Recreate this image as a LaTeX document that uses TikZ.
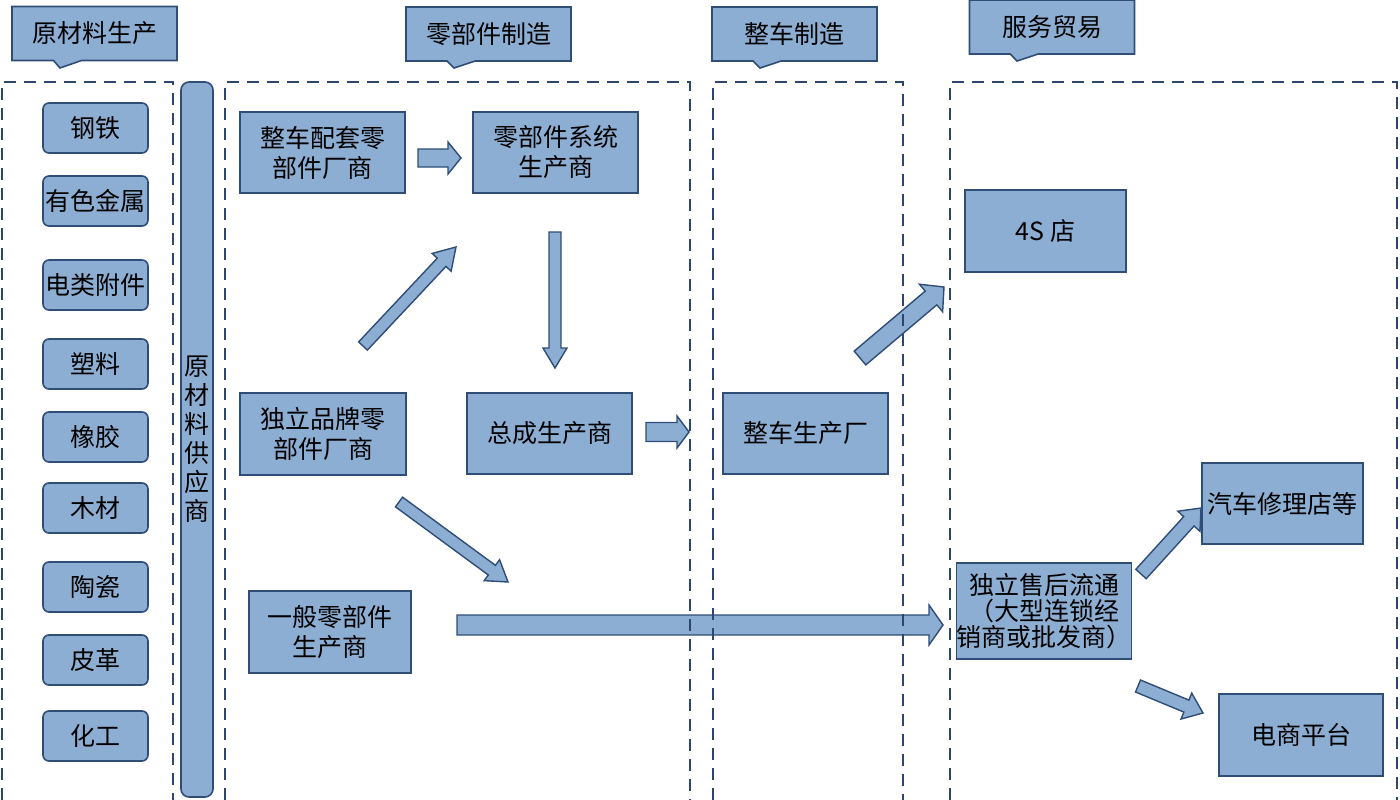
\documentclass[tikz,border=0pt]{standalone}
\usepackage{fontspec}
\newfontfamily\cjk{Noto Sans CJK SC}
\usetikzlibrary{calc,shapes.callouts}
\definecolor{bfill}{RGB}{141,174,211}
\definecolor{bedge}{RGB}{47,77,118}
\definecolor{dashc}{RGB}{45,70,110}
\tikzset{
  every node/.style={font=\cjk\fontsize{25}{30}\selectfont, text=black},
  base/.style={draw=bedge, fill=bfill, line width=1.6pt, inner sep=0pt, align=center},
  sqbox/.style={base, rectangle},
  rbox/.style={base, rectangle, rounded corners=6pt, minimum width=105pt, minimum height=50pt},
  hdr/.style={base, rectangle callout, callout pointer width=28pt, minimum width=165pt, minimum height=54pt},
  cont/.style={draw=dashc, line width=1.8pt, dash pattern=on 12pt off 8pt},
  barrow/.style={draw=bedge, fill=bfill, line width=1.4pt, line join=miter},
}
\newcommand{\blockarrow}[5]{%
  \coordinate (ba-h) at ($(#2)!#5!(#1)$);
  \draw[barrow] ($(#1)!#3!90:(#2)$) -- ($(ba-h)!#3!90:(#2)$) -- ($(ba-h)!#4!90:(#2)$) -- (#2)
     -- ($(ba-h)!#4!-90:(#2)$) -- ($(ba-h)!#3!-90:(#2)$) -- ($(#1)!#3!-90:(#2)$) -- cycle;}
\begin{document}
\begin{tikzpicture}[x=1pt,y=-1pt]
\useasboundingbox (0,0) rectangle (1400,800);

% arrow end points
\coordinate (a1t) at (418,158);  \coordinate (a1h) at (461,158);
\coordinate (a2t) at (363,346);  \coordinate (a2h) at (456,247);
\coordinate (a3t) at (555,232);  \coordinate (a3h) at (555,368);
\coordinate (a4t) at (646,432);  \coordinate (a4h) at (689,432);
\coordinate (a5t) at (860,358);  \coordinate (a5h) at (944,287);
\coordinate (a6t) at (399,502);  \coordinate (a6h) at (508,582);
\coordinate (a7t) at (457,625);  \coordinate (a7h) at (943,625);
\coordinate (a8t) at (1141,574); \coordinate (a8h) at (1201,508);
\coordinate (a9t) at (1138,686); \coordinate (a9h) at (1203,713);

\blockarrow{a1t}{a1h}{9pt}{16pt}{13pt}
\blockarrow{a2t}{a2h}{6pt}{13pt}{21pt}
\blockarrow{a3t}{a3h}{6pt}{12pt}{20pt}
\blockarrow{a4t}{a4h}{9.5pt}{16pt}{12pt}
\blockarrow{a5t}{a5h}{9pt}{18pt}{17pt}
\blockarrow{a6t}{a6h}{6pt}{13pt}{20pt}
\blockarrow{a7t}{a7h}{10pt}{20pt}{14pt}
\blockarrow{a8t}{a8h}{7pt}{15pt}{18pt}
\blockarrow{a9t}{a9h}{6.5pt}{14pt}{18pt}

% dashed containers
\draw[cont] (2,800) -- (2,82) -- (173,82) -- (173,800);
\draw[cont] (225,800) -- (225,82) -- (690,82) -- (690,800);
\draw[cont] (713,800) -- (713,82) -- (903,82) -- (903,800);
\draw[cont] (950,800) -- (950,82) -- (1397,82) -- (1397,800);

% headers
\node[hdr, callout absolute pointer={(60,68)}] (h1) at (94.5,33.5) {原材料生产};
\node[hdr, callout absolute pointer={(454,68)}] (h2) at (488.5,34) {零部件制造};
\node[hdr, callout absolute pointer={(760,68)}] (h3) at (794.5,34) {整车制造};
\node[hdr, callout absolute pointer={(1017,61)}] (h4) at (1052,27) {服务贸易};

% raw materials
\node[rbox] (m1) at (95.5,128) {钢铁};
\node[rbox] (m2) at (95.5,201) {有色金属};
\node[rbox] (m3) at (95.5,285) {电类附件};
\node[rbox] (m4) at (95.5,364) {塑料};
\node[rbox] (m5) at (95.5,437) {橡胶};
\node[rbox] (m6) at (95.5,508) {木材};
\node[rbox] (m7) at (95.5,587) {陶瓷};
\node[rbox] (m8) at (95.5,660) {皮革};
\node[rbox] (m9) at (95.5,736) {化工};

% supplier bar
\node[base, rectangle, rounded corners=8pt, minimum width=32pt, minimum height=715pt,
      font=\cjk\fontsize{25}{29}\selectfont] (sup) at (197,439.5) {原\\材\\料\\供\\应\\商};

% parts manufacturing
\node[sqbox, minimum width=165pt, minimum height=81pt] (p1) at (322.5,152.5) {整车配套零\\部件厂商};
\node[sqbox, minimum width=165pt, minimum height=81pt] (p2) at (555.5,152.5) {零部件系统\\生产商};
\node[sqbox, minimum width=166pt, minimum height=82pt] (p3) at (323,434) {独立品牌零\\部件厂商};
\node[sqbox, minimum width=165pt, minimum height=81pt] (p4) at (549.5,433.5) {总成生产商};
\node[sqbox, minimum width=162pt, minimum height=82pt] (p5) at (330,632) {一般零部件\\生产商};

% vehicle
\node[sqbox, minimum width=165pt, minimum height=81pt] (v1) at (805.5,433.5) {整车生产厂};

% service
\node[sqbox, minimum width=161pt, minimum height=82pt] (s1) at (1045.5,231) {4S 店};
\node[sqbox, minimum width=174pt, minimum height=96pt,
      font=\cjk\fontsize{25}{26}\selectfont] (s2) at (1044,611) {独立售后流通\\（大型连锁经\\销商或批发商）};
\node[sqbox, minimum width=161pt, minimum height=81pt] (s3) at (1282.5,503.5) {汽车修理店等};
\node[sqbox, minimum width=164pt, minimum height=82pt] (s4) at (1301,735) {电商平台};
\end{tikzpicture}
\end{document}
